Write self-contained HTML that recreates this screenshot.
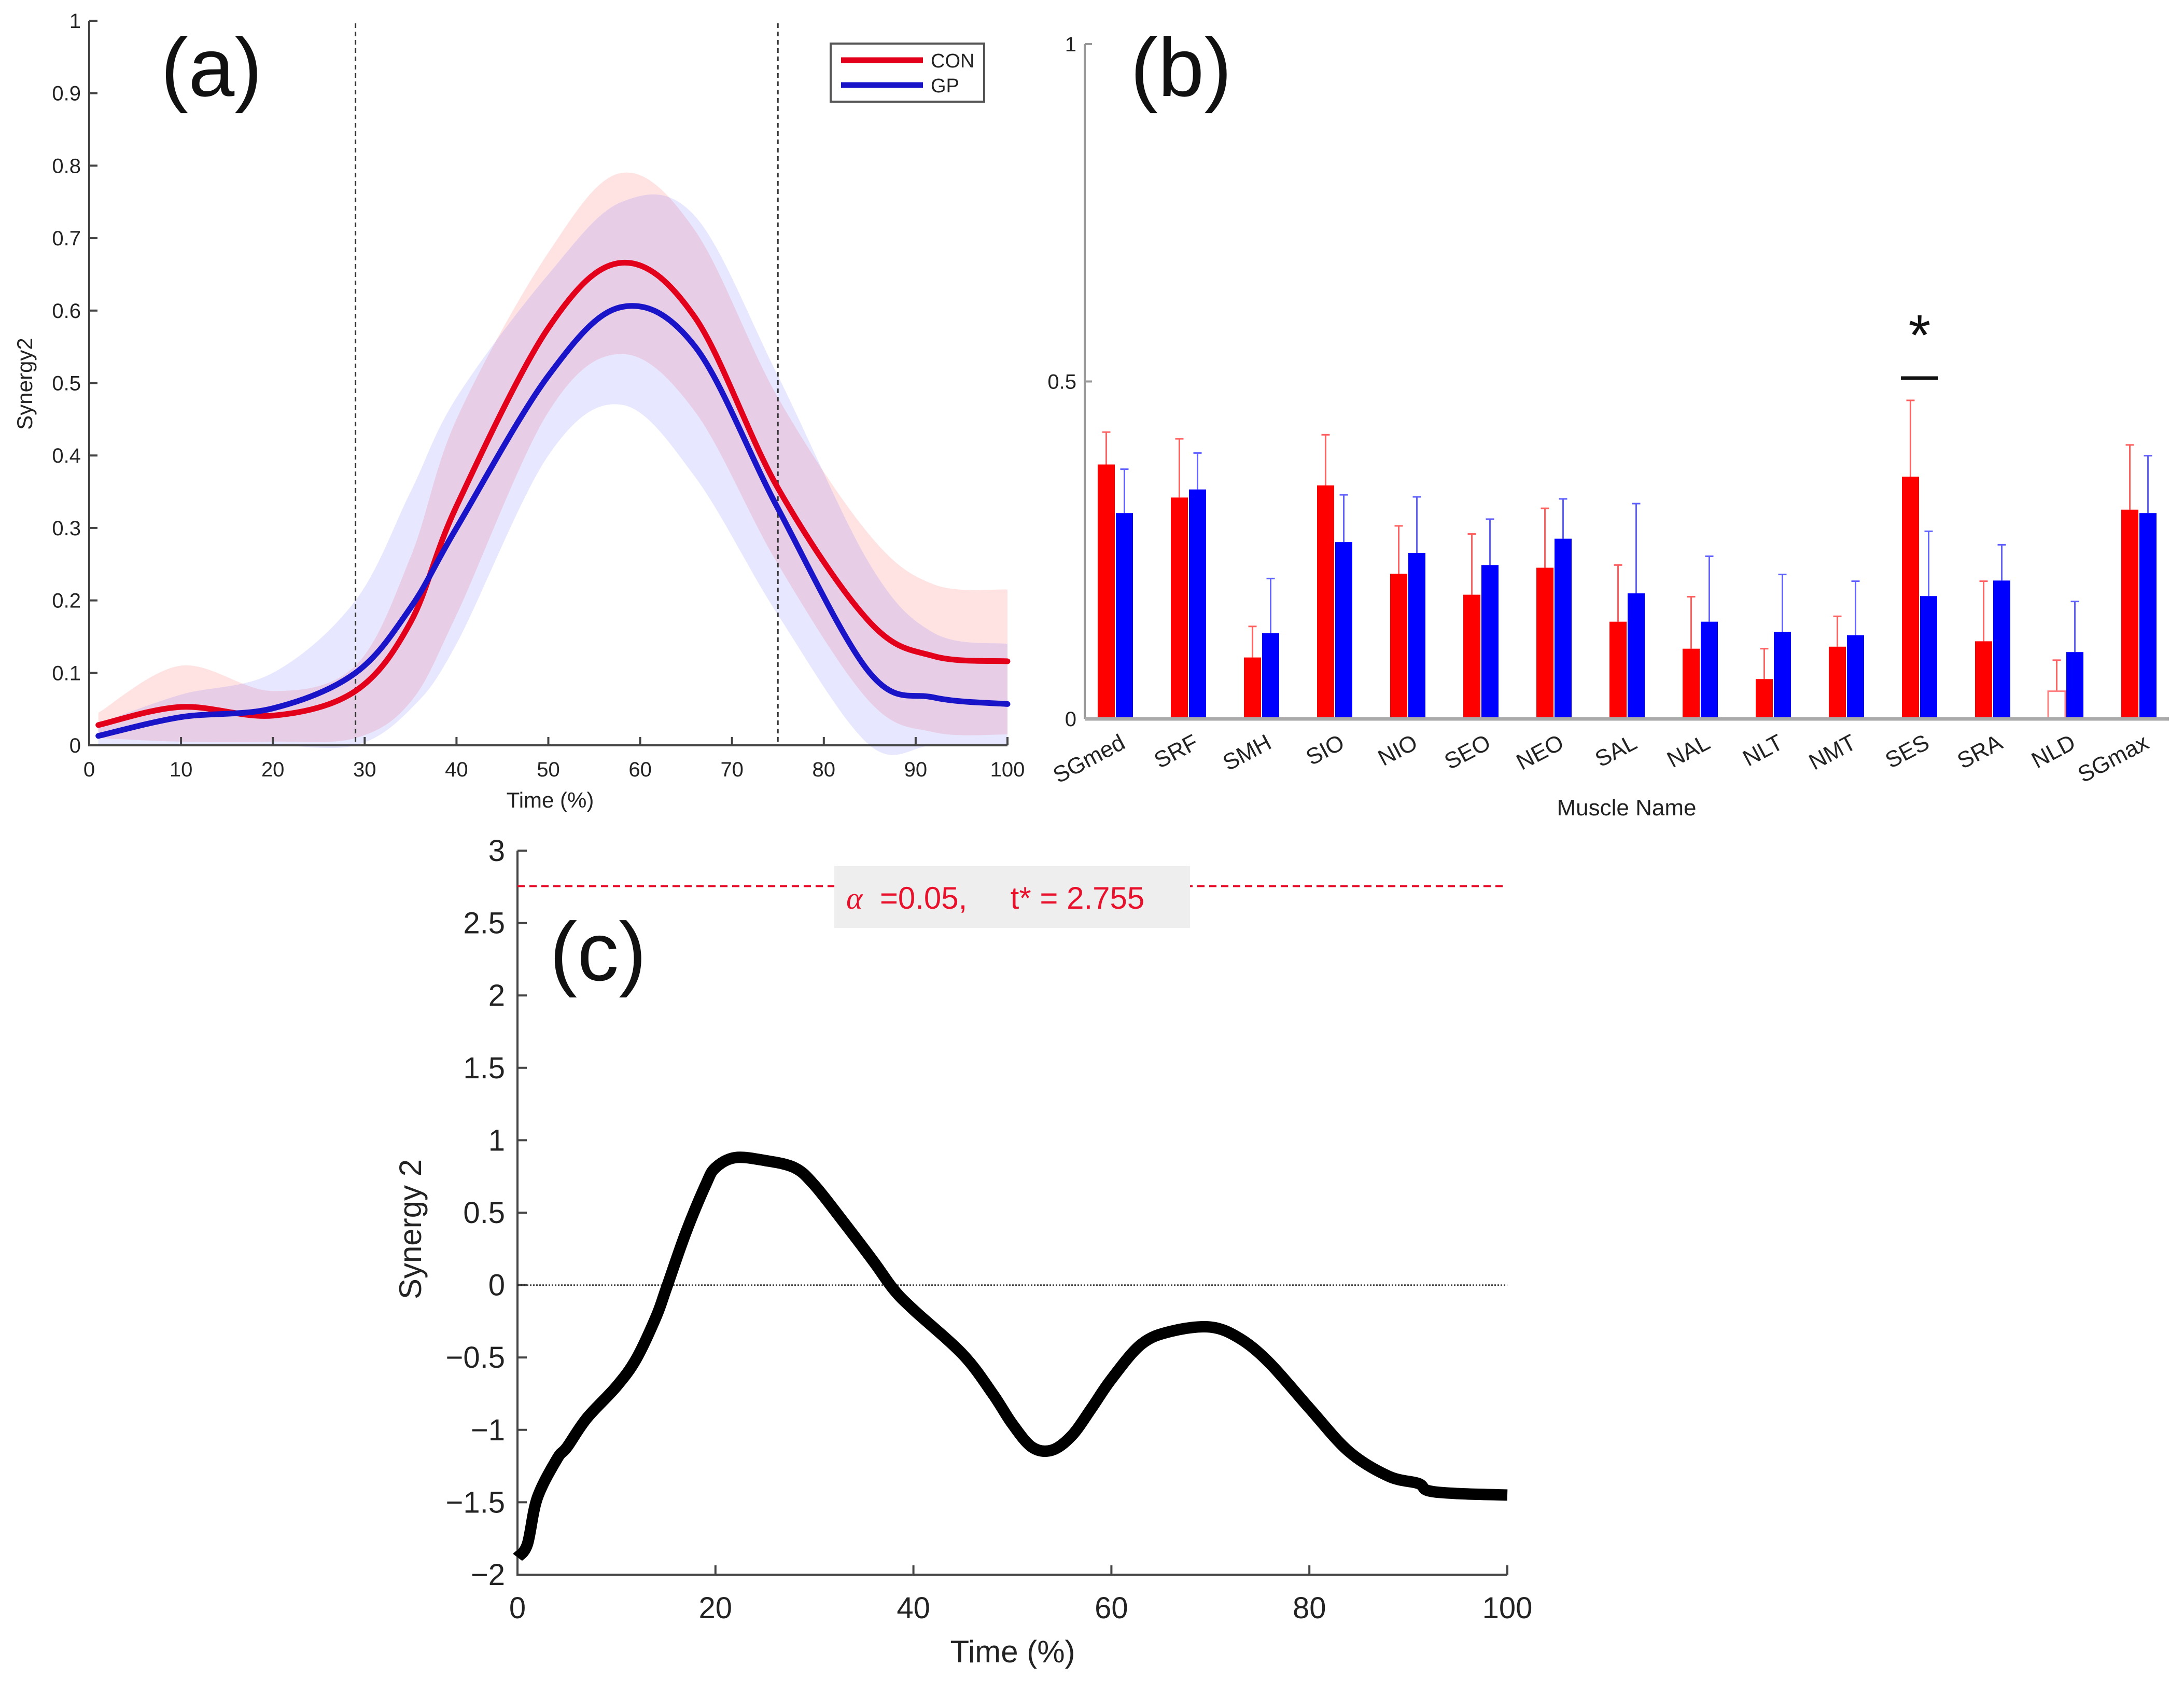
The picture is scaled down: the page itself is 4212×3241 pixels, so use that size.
<!DOCTYPE html>
<html><head><meta charset="utf-8">
<style>
html,body{margin:0;padding:0;background:#fff;}
svg{display:block;font-family:"Liberation Sans","Noto Sans CJK JP",sans-serif;}
.pre{white-space:pre;}
</style></head>
<body>
<svg id="fig" width="4212" height="3241" viewBox="0 0 4212 3241" xmlns="http://www.w3.org/2000/svg">
<g id="pa"></g>
<g id="pb"></g>
<g id="pc"></g>
</svg>
<script>
// ---------- Panel A data ----------
const aTime = [1,10,20,29,35,40,50,58,66,75,85,92,100];
const aCon  = [0.028,0.053,0.041,0.075,0.17,0.33,0.576,0.666,0.59,0.355,0.17,0.123,0.116];
const aConHi= [0.045,0.11,0.075,0.11,0.26,0.45,0.68,0.79,0.71,0.48,0.29,0.222,0.215];
const aConLo= [0.01,0.005,0.005,0.01,0.06,0.18,0.46,0.54,0.46,0.25,0.06,0.018,0.015];
const aGp   = [0.013,0.039,0.051,0.10,0.19,0.30,0.51,0.605,0.55,0.327,0.10,0.066,0.057];
const aGpHi = [0.03,0.07,0.1,0.2,0.35,0.48,0.65,0.75,0.73,0.51,0.25,0.155,0.14];
const aGpLo = [0,0,0,0,0.05,0.14,0.4,0.47,0.37,0.18,0,0,0];
const aXTicks = [0,10,20,30,40,50,60,70,80,90,100];
const aYTicks = [0,0.1,0.2,0.3,0.4,0.5,0.6,0.7,0.8,0.9,1];
const aVLines = [29,75];
// ---------- Panel B data ----------
const bCats = ["SGmed","SRF","SMH","SIO","NIO","SEO","NEO","SAL","NAL","NLT","NMT","SES","SRA","NLD","SGmax"];
const bCon  = [0.377,0.328,0.091,0.346,0.215,0.184,0.224,0.144,0.104,0.059,0.107,0.359,0.115,0.041,0.310];
const bConErr=[0.425,0.415,0.137,0.421,0.286,0.274,0.312,0.228,0.181,0.104,0.152,0.472,0.204,0.087,0.406];
const bGp   = [0.305,0.340,0.127,0.262,0.246,0.228,0.267,0.186,0.144,0.129,0.124,0.182,0.205,0.099,0.305];
const bGpErr= [0.370,0.394,0.208,0.332,0.329,0.296,0.326,0.319,0.241,0.214,0.204,0.278,0.258,0.174,0.390];
const bYTicks = [0,0.5,1];
// ---------- Panel C data ----------
const cTime = [0,1,2,4,5,7,10,12,14,15,17,19,20,22,25,28,30,33,36,38,40,45,48,50,52,54,56,58,60,63,66,70,73,76,80,84,88,91,92,95,100];
const cVal  = [-1.88,-1.79,-1.47,-1.2,-1.12,-0.92,-0.70,-0.51,-0.22,-0.03,0.36,0.69,0.81,0.88,0.86,0.81,0.69,0.43,0.16,-0.03,-0.17,-0.48,-0.75,-0.96,-1.12,-1.14,-1.04,-0.85,-0.65,-0.41,-0.32,-0.29,-0.37,-0.54,-0.85,-1.15,-1.32,-1.37,-1.42,-1.44,-1.45];
const cXTicks = [0,20,40,60,80,100];
const cYTicks = [-2,-1.5,-1,-0.5,0,0.5,1,1.5,2,2.5,3];
const cThreshold = 2.755;

const NS="http://www.w3.org/2000/svg";
function mk(tag, attrs, parent, text){
  const e=document.createElementNS(NS,tag);
  for(const k in attrs) e.setAttribute(k,attrs[k]);
  if(text!==undefined) e.textContent=text;
  parent.appendChild(e); return e;
}
function fmt(v){ return String(v).replace('-', '\u2212'); }
function smoothPath(pts){
  let d="M"+pts[0][0]+","+pts[0][1];
  for(let i=0;i<pts.length-1;i++){
    const p0=pts[Math.max(i-1,0)],p1=pts[i],p2=pts[i+1],p3=pts[Math.min(i+2,pts.length-1)];
    const c1x=p1[0]+(p2[0]-p0[0])/6,c1y=p1[1]+(p2[1]-p0[1])/6;
    const c2x=p2[0]-(p3[0]-p1[0])/6,c2y=p2[1]-(p3[1]-p1[1])/6;
    d+=" C"+c1x+","+c1y+" "+c2x+","+c2y+" "+p2[0]+","+p2[1];
  }
  return d;
}

// ================= Panel A =================
(function(){
  const g=document.getElementById('pa');
  const X0=172,X1=1943,Y0=1437,Y1=40;
  const sx=t=>X0+(X1-X0)*t/100, sy=v=>Y0-(Y0-Y1)*v;
  function band(hi,lo,fill,name){
    const up=aTime.map((t,i)=>[sx(t),sy(hi[i])]);
    const dn=aTime.map((t,i)=>[sx(t),sy(lo[i])]).reverse();
    const dd=smoothPath(dn);
    let d=smoothPath(up)+" L"+dn[0][0]+","+dn[0][1]+dd.slice(dd.indexOf(' C'))+" Z";
    const p=mk('path',{d:d,fill:fill,stroke:'none'},g);
    
    
  }
  band(aConHi,aConLo,'rgba(255,60,60,0.14)','con-sd-band');
  band(aGpHi,aGpLo,'rgba(60,60,255,0.12)','gp-sd-band');
  const ax=mk('path',{d:`M${X0},${Y1} L${X0},${Y0} L${X1},${Y0}`,stroke:'#444',fill:'none','stroke-width':4},g);
  
  
  aYTicks.forEach(v=>{
    mk('line',{x1:X0,x2:X0+16,y1:sy(v),y2:sy(v),stroke:'#444','stroke-width':4},g);
    const t=mk('text',{x:X0-16,y:sy(v)+14,'text-anchor':'end','font-size':40,fill:'#222'},g,String(v));
    
    
  });
  aXTicks.forEach(v=>{
    mk('line',{x1:sx(v),x2:sx(v),y1:Y0,y2:Y0-16,stroke:'#444','stroke-width':4},g);
    const t=mk('text',{x:sx(v),y:Y0+60,'text-anchor':'middle','font-size':40,fill:'#222'},g,String(v));
    
    
  });
  aVLines.forEach(v=>{
    const l=mk('line',{x1:sx(v),x2:sx(v),y1:Y1+5,y2:Y0,stroke:'#333','stroke-width':3,'stroke-dasharray':'9,7'},g);
    
    
  });
  const con=mk('path',{d:smoothPath(aTime.map((t,i)=>[sx(t),sy(aCon[i])])),stroke:'#e3001b',fill:'none','stroke-width':11,'stroke-linecap':'round'},g);
  
  
  const gp=mk('path',{d:smoothPath(aTime.map((t,i)=>[sx(t),sy(aGp[i])])),stroke:'#1a14c8',fill:'none','stroke-width':11,'stroke-linecap':'round'},g);
  
  
  const xl=mk('text',{x:1061,y:1557,'text-anchor':'middle','font-size':42,fill:'#222'},g,'Time (%)');
  
  
  const yl=mk('text',{x:0,y:0,'text-anchor':'middle','font-size':42,fill:'#222',transform:'translate(62,740) rotate(-90)'},g,'Synergy2');
  
  
  const pl=mk('text',{x:310,y:185,'font-size':160,fill:'#111'},g,'(a)');
  
  
  const lg=mk('g',{},g);
  
  
  mk('rect',{x:1602,y:84,width:296,height:112,fill:'#fff',stroke:'#555','stroke-width':4},lg);
  mk('line',{x1:1622,x2:1780,y1:116,y2:116,stroke:'#e3001b','stroke-width':11},lg);
  mk('line',{x1:1622,x2:1780,y1:164,y2:164,stroke:'#1a14c8','stroke-width':11},lg);
  const l1=mk('text',{x:1795,y:130,'font-size':38,fill:'#222'},lg,'CON');
  
  
  const l2=mk('text',{x:1795,y:178,'font-size':38,fill:'#222'},lg,'GP');
  
  
})();

// ================= Panel B =================
(function(){
  const g=document.getElementById('pb');
  const X0=2092,X1=4183,Y0=1386,Y1=85,C0=2151,STEP=141,BW=33;
  const sy=v=>Y0-(Y0-Y1)*v, cx=i=>C0+STEP*i;
  mk('line',{x1:X0,x2:X0,y1:Y1,y2:Y0,stroke:'#999','stroke-width':4},g);
  bYTicks.forEach(v=>{
    mk('line',{x1:X0,x2:X0+14,y1:sy(v),y2:sy(v),stroke:'#999','stroke-width':4},g);
    const t=mk('text',{x:X0-16,y:sy(v)+14,'text-anchor':'end','font-size':40,fill:'#222'},g,String(v));
    
    
  });
  bCats.forEach((c,i)=>{
    const xr=cx(i)-BW-1, xb=cx(i)+1;
    [[xr,bCon[i],bConErr[i],'#ff6060'],[xb,bGp[i],bGpErr[i],'#6060ff']].forEach(e=>{
      const m=e[0]+BW/2;
      mk('line',{x1:m,x2:m,y1:sy(e[1]),y2:sy(e[2]),stroke:e[3],'stroke-width':3},g);
      mk('line',{x1:m-8,x2:m+8,y1:sy(e[2]),y2:sy(e[2]),stroke:e[3],'stroke-width':3},g);
    });
    const r=mk('rect',{x:xr,y:sy(bCon[i]),width:BW,height:sy(0)-sy(bCon[i])},g);
    if(c==='NLD'){ r.setAttribute('fill','none'); r.setAttribute('stroke','#ff8080'); r.setAttribute('stroke-width','3'); }
    else r.setAttribute('fill','#ff0000');
    
    
    const b=mk('rect',{x:xb,y:sy(bGp[i]),width:BW,height:sy(0)-sy(bGp[i]),fill:'#0000ff'},g);
    
    
    const t=mk('text',{x:0,y:0,'text-anchor':'end','font-size':44,fill:'#222',transform:`translate(${cx(i)+22},${Y0+55}) rotate(-28)`},g,c);
    
    
  });
  mk('line',{x1:X0,x2:X1,y1:Y0,y2:Y0,stroke:'#aaa','stroke-width':7},g);
  const ses=bCats.indexOf('SES');
  const sl=mk('line',{x1:cx(ses)-36,x2:cx(ses)+36,y1:sy(0.505),y2:sy(0.505),stroke:'#111','stroke-width':7},g);
  
  
  const st=mk('text',{x:cx(ses),y:sy(0.555)+20,'text-anchor':'middle','font-size':110,fill:'#111'},g,'*');
  
  
  const xl=mk('text',{x:3137,y:1572,'text-anchor':'middle','font-size':44,fill:'#222'},g,'Muscle Name');
  
  
  const pl=mk('text',{x:2180,y:185,'font-size':160,fill:'#111'},g,'(b)');
  
  
})();

// ================= Panel C =================
(function(){
  const g=document.getElementById('pc');
  const X0=998,X1=2907,Y0=3036,Y1=1640;
  const sx=t=>X0+(X1-X0)*t/100, sy=v=>Y0-(Y0-Y1)*(v+2)/5;
  const ax=mk('path',{d:`M${X0},${Y1} L${X0},${Y0} L${X1},${Y0}`,stroke:'#444',fill:'none','stroke-width':4},g);
  
  
  cYTicks.forEach(v=>{
    mk('line',{x1:X0,x2:X0+18,y1:sy(v),y2:sy(v),stroke:'#444','stroke-width':4},g);
    const t=mk('text',{x:X0-24,y:sy(v)+20,'text-anchor':'end','font-size':58,fill:'#222'},g,fmt(v));
    
    
  });
  cXTicks.forEach(v=>{
    mk('line',{x1:sx(v),x2:sx(v),y1:Y0,y2:Y0-18,stroke:'#444','stroke-width':4},g);
    const t=mk('text',{x:sx(v),y:Y0+84,'text-anchor':'middle','font-size':58,fill:'#222'},g,String(v));
    
    
  });
  const z=mk('line',{x1:X0,x2:X1,y1:sy(0),y2:sy(0),stroke:'#222','stroke-width':2.5,'stroke-dasharray':'3,3'},g);
  
  
  const th=mk('line',{x1:X0,x2:X1,y1:sy(cThreshold),y2:sy(cThreshold),stroke:'#e8102a','stroke-width':4,'stroke-dasharray':'14,9'},g);
  
  
  const box=mk('rect',{x:1609,y:1670,width:686,height:119,fill:'#eeeeee'},g);
  
  
  const lt=mk('text',{x:1632,y:1752,'font-size':60,fill:'#e8102a','class':'pre'},g);
  
  
  mk('tspan',{'font-family':'Liberation Serif, serif','font-style':'italic'},lt,'\u03B1');
  mk('tspan',{'class':'pre'},lt,'  =0.05,     t* = '+cThreshold);
  const ln=mk('path',{d:smoothPath(cTime.map((t,i)=>[sx(t),sy(cVal[i])])),stroke:'#000',fill:'none','stroke-width':22,'stroke-linejoin':'round'},g);
  
  
  const xl=mk('text',{x:1953,y:3205,'text-anchor':'middle','font-size':60,fill:'#222'},g,'Time (%)');
  
  
  const yl=mk('text',{x:0,y:0,'text-anchor':'middle','font-size':60,fill:'#222',transform:'translate(812,2370) rotate(-90)'},g,'Synergy 2');
  
  
  const pl=mk('text',{x:1060,y:1890,'font-size':160,fill:'#111'},g,'(c)');
  
  
})();
</script>
</body></html>
